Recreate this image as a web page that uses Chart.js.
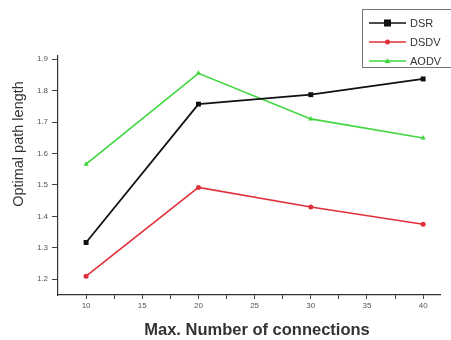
<!DOCTYPE html>
<html>
<head>
<meta charset="utf-8">
<script src="https://cdn.jsdelivr.net/npm/chart.js@4.4.0/dist/chart.umd.min.js"></script>
<style>
  html, body { margin: 0; padding: 0; background: #fff; }
  #wrap { width: 451px; height: 340px; }
</style>
</head>
<body>
<div id="wrap"><canvas id="pathChart" width="451" height="340"></canvas></div>
<script>
const connections = [10, 20, 30, 40];
const dsr = [1.317, 1.757, 1.787, 1.837];
const dsdv = [1.210, 1.492, 1.430, 1.375];
const aodv = [1.566, 1.855, 1.710, 1.649];
const xTicks = [10, 12.5, 15, 17.5, 20, 22.5, 25, 27.5, 30, 32.5, 35, 37.5, 40];
const yTicks = [1.2, 1.3, 1.4, 1.5, 1.6, 1.7, 1.8, 1.9];
const xTitle = 'Max. Number of connections';
const yTitle = 'Optimal path length';

const FONT = '"Liberation Sans", Arial, sans-serif';

function points(values) {
    return connections.map(function(c, i) { return { x: c, y: values[i] }; });
}

// axis titles sit a little off-centre in the original, so draw them by hand
const axisTitles = {
    id: 'axisTitles',
    afterDraw: function(chart) {
        const ctx = chart.ctx;
        ctx.save();
        ctx.fillStyle = '#333';
        ctx.textAlign = 'center';
        ctx.textBaseline = 'middle';
        ctx.font = 'bold 16.5px ' + FONT;
        ctx.fillText(xTitle, 257, 330);
        ctx.translate(19, 144);
        ctx.rotate(-Math.PI / 2);
        ctx.font = '14.5px ' + FONT;
        ctx.fillText(yTitle, 0, 0);
        ctx.restore();
    }
};

// legend box drawn over the top right corner, like the original figure
const boxLegend = {
    id: 'boxLegend',
    afterDraw: function(chart) {
        const ctx = chart.ctx;
        ctx.save();
        ctx.fillStyle = '#fff';
        ctx.fillRect(362, 9, 100, 58);
        ctx.strokeStyle = '#777';
        ctx.lineWidth = 1;
        ctx.strokeRect(362.5, 9.5, 100, 58);
        chart.data.datasets.forEach(function(ds, i) {
            const y = 23 + i * 19;
            ctx.strokeStyle = ds.borderColor;
            ctx.lineWidth = 1.5;
            ctx.beginPath();
            ctx.moveTo(369, y);
            ctx.lineTo(406, y);
            ctx.stroke();
            ctx.fillStyle = ds.borderColor;
            const s = ds.pointRadius;
            ctx.beginPath();
            if (ds.pointStyle === 'rect') {
                ctx.fillRect(387.5 - s, y - s, 2 * s, 2 * s);
            } else if (ds.pointStyle === 'triangle') {
                ctx.moveTo(387.5, y - s);
                ctx.lineTo(387.5 + s, y + s * 0.7);
                ctx.lineTo(387.5 - s, y + s * 0.7);
                ctx.closePath();
                ctx.fill();
            } else {
                ctx.arc(387.5, y, s, 0, Math.PI * 2);
                ctx.fill();
            }
            ctx.fillStyle = '#333';
            ctx.font = '11px ' + FONT;
            ctx.textAlign = 'left';
            ctx.textBaseline = 'middle';
            ctx.fillText(ds.label, 410, y + 1);
        });
        ctx.restore();
    }
};

const ctx = document.getElementById('pathChart').getContext('2d');

new Chart(ctx, {
    type: 'line',
    data: {
        datasets: [
            {
                label: 'DSR',
                data: points(dsr),
                borderColor: '#111111',
                backgroundColor: '#111111',
                borderWidth: 1.8,
                pointStyle: 'rect',
                pointRadius: 3.5,
                pointBorderWidth: 0
            },
            {
                label: 'DSDV',
                data: points(dsdv),
                borderColor: '#e0303a',
                backgroundColor: '#e0303a',
                borderWidth: 1.6,
                pointStyle: 'circle',
                pointRadius: 2.5,
                pointBorderWidth: 0
            },
            {
                label: 'AODV',
                data: points(aodv),
                borderColor: '#3ed83e',
                backgroundColor: '#3ed83e',
                borderWidth: 1.6,
                pointStyle: 'triangle',
                pointRadius: 3,
                pointBorderWidth: 0
            }
        ]
    },
    options: {
        responsive: false,
        animation: false,
        layout: { padding: { top: 56, right: 11, left: 0, bottom: 0 } },
        plugins: {
            legend: { display: false },
            tooltip: { enabled: false }
        },
        scales: {
            x: {
                type: 'linear',
                min: 7.5,
                max: 41.5,
                afterBuildTicks: function(scale) {
                    scale.ticks = xTicks.map(function(v) { return { value: v }; });
                },
                afterFit: function(scale) { scale.height = 45; },
                ticks: {
                    autoSkip: false,
                    maxRotation: 0,
                    padding: 2,
                    color: '#555',
                    font: { family: FONT, size: 8 },
                    callback: function(v) { return v % 5 === 0 ? String(v) : ''; }
                },
                grid: {
                    drawOnChartArea: false,
                    tickLength: 4,
                    tickColor: '#444'
                },
                border: { color: '#333', width: 1.2 }
            },
            y: {
                type: 'linear',
                min: 1.15,
                max: 1.91,
                afterBuildTicks: function(scale) {
                    scale.ticks = yTicks.map(function(v) { return { value: v }; });
                },
                afterFit: function(scale) { scale.width = 58; },
                ticks: {
                    padding: 4,
                    color: '#555',
                    font: { family: FONT, size: 8 },
                    callback: function(v) { return v.toFixed(1); }
                },
                grid: {
                    drawOnChartArea: false,
                    tickLength: 6,
                    tickColor: '#444'
                },
                border: { color: '#333', width: 1.2 }
            }
        }
    },
    plugins: [axisTitles, boxLegend]
});
</script>
</body>
</html>
